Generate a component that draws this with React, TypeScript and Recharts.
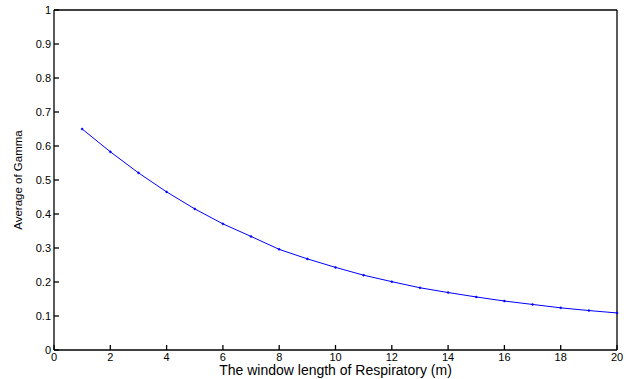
import React from 'react'
import { LineChart, Line, XAxis, YAxis } from 'recharts'

// window length (m) vs average gamma
const windowLength = [1, 2, 3, 4, 5, 6, 7, 8, 9, 10, 11, 12, 13, 14, 15, 16, 17, 18, 19, 20]
const avgGamma = [
  0.65, 0.583, 0.521, 0.465, 0.415, 0.371, 0.334, 0.296, 0.268, 0.243,
  0.22, 0.201, 0.183, 0.169, 0.156, 0.144, 0.134, 0.124, 0.116, 0.109,
]
const xTicks = [0, 2, 4, 6, 8, 10, 12, 14, 16, 18, 20]
const yTicks = [0, 0.1, 0.2, 0.3, 0.4, 0.5, 0.6, 0.7, 0.8, 0.9, 1]

const data = windowLength.map((w, i) => ({ w, gamma: avgGamma[i] }))

const font = '"Liberation Sans", Arial, Helvetica, sans-serif'
const tickStyle = { fontSize: 11, fill: '#000', fontFamily: font }
const axisStroke = { stroke: '#000', strokeWidth: 1.3 }

function YLabel(props: any) {
  const vb = props.viewBox || {}
  const x = vb.x + 17.5
  const y = vb.y + vb.height / 2
  return (
    <text
      x={x}
      y={y}
      transform={`rotate(-90, ${x}, ${y})`}
      textAnchor="middle"
      dy="0.36em"
      style={{ fontSize: 11.5, fontFamily: font, fill: '#000' }}
    >
      Average of Gamma
    </text>
  )
}

export default function App() {
  return (
    <div style={{ position: 'absolute', left: 0, top: 0, width: 627, height: 379, background: '#fff' }}>
      <LineChart width={627} height={379} data={data} margin={{ top: 9, right: 9, left: 0, bottom: 0 }}>
        <XAxis
          dataKey="w"
          type="number"
          domain={[0, 20]}
          ticks={xTicks}
          interval={0}
          tick={tickStyle}
          tickSize={-5}
          tickMargin={8}
          axisLine={axisStroke}
          tickLine={axisStroke}
          height={29}
          label={{
            value: 'The window length of Respiratory (m)',
            position: 'insideBottom',
            offset: 4,
            style: { fontSize: 14, fontFamily: font, fill: '#000' },
          }}
        />
        <XAxis
          xAxisId="top"
          orientation="top"
          type="number"
          domain={[0, 20]}
          ticks={xTicks}
          interval={0}
          tick={false}
          tickSize={-5}
          axisLine={axisStroke}
          tickLine={axisStroke}
          height={1}
        />
        <YAxis
          type="number"
          domain={[0, 1]}
          ticks={yTicks}
          interval={0}
          tick={tickStyle}
          tickSize={-5}
          tickMargin={8}
          axisLine={axisStroke}
          tickLine={axisStroke}
          width={54}
          label={{ content: YLabel }}
        />
        <YAxis
          yAxisId="right"
          orientation="right"
          type="number"
          domain={[0, 1]}
          ticks={yTicks}
          interval={0}
          tick={false}
          tickSize={-5}
          axisLine={axisStroke}
          tickLine={axisStroke}
          width={1}
        />
        <Line
          type="linear"
          dataKey="gamma"
          stroke="#0000ff"
          strokeWidth={1}
          dot={{ r: 1, fill: '#0000ff', stroke: '#0000ff', strokeWidth: 0.5 }}
          isAnimationActive={false}
        />
      </LineChart>
    </div>
  )
}
